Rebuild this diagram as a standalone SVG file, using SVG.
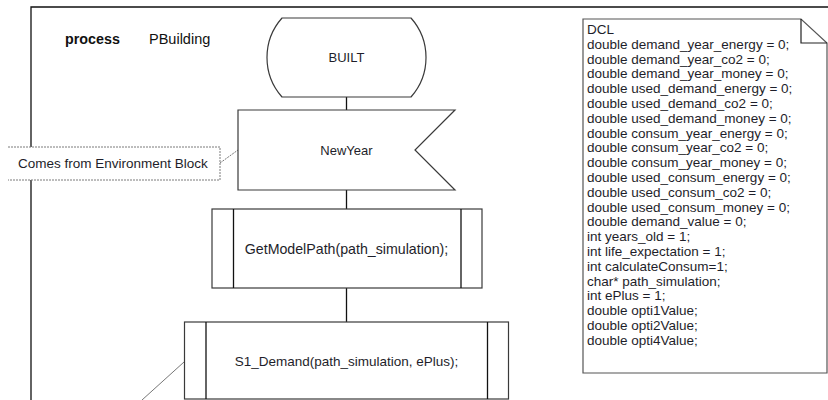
<svg xmlns="http://www.w3.org/2000/svg" width="828" height="400" viewBox="0 0 828 400">
<style>
.shape{fill:#fff;stroke:#3a3a3a;stroke-width:1.2}
.conn{stroke:#111;stroke-width:1.3;fill:none}
.note{fill:none;stroke:#7a7a7a;stroke-width:1;stroke-dasharray:2 1}
.t{font-family:"Liberation Sans",Arial,sans-serif;font-size:13px;fill:#1e1e2a}
.c{text-anchor:middle}
.dcl{font-family:"Liberation Sans",Arial,sans-serif;font-size:13.5px;fill:#1e1e2a}
</style>
<rect width="828" height="400" fill="#fff"/>
<g id="frame">
<path d="M31,400 V7 H828" fill="none" stroke="#111" stroke-width="1.3"/>
<text x="65" y="44" style="font-family:'Liberation Sans',Arial,sans-serif;font-size:14.3px;font-weight:bold;fill:#111">process</text>
<text x="149" y="44" style="font-family:'Liberation Sans',Arial,sans-serif;font-size:14.5px;fill:#111">PBuilding</text>
</g>
<g id="connectors">
<line class="conn" x1="346.5" y1="97" x2="346.5" y2="110"/>
<line class="conn" x1="346.5" y1="190" x2="346.5" y2="209"/>
<line class="conn" x1="346.5" y1="288" x2="346.5" y2="322"/>
<line x1="220" y1="163" x2="238" y2="150" stroke="#777" stroke-width="1" stroke-dasharray="2 1"/>
<line x1="184" y1="362" x2="142" y2="400" stroke="#777" stroke-width="1"/>
</g>
<g id="comment">
<rect x="8" y="147" width="212" height="33" fill="#fff"/>
<path class="note" d="M8,147 H220 V180 H8"/>
<text class="t" x="18" y="168" style="font-size:13.5px">Comes from Environment Block</text>
</g>
<g id="built">
<path class="shape" d="M282,18 H411 A59.5,59.5 0 0 1 411,97 H282 A59.5,59.5 0 0 1 282,18 Z"/>
<text class="t c" x="346.5" y="61.5">BUILT</text>
</g>
<g id="newyear">
<path class="shape" d="M238,110 H455 L415,150 L455,190 H238 Z"/>
<text class="t c" x="346.5" y="154.5">NewYear</text>
</g>
<g id="getmodelpath">
<rect class="shape" x="212" y="209" width="270" height="79"/>
<line class="conn" x1="233.5" y1="209" x2="233.5" y2="288"/>
<line class="conn" x1="461" y1="209" x2="461" y2="288"/>
<text class="t c" x="346.5" y="253.5" style="font-size:14.2px">GetModelPath(path_simulation);</text>
</g>
<g id="s1demand">
<rect class="shape" x="184.5" y="322" width="324" height="77"/>
<line class="conn" x1="206" y1="322" x2="206" y2="399"/>
<line class="conn" x1="487.5" y1="322" x2="487.5" y2="399"/>
<text class="t c" x="346.5" y="366" style="font-size:13.5px">S1_Demand(path_simulation, ePlus);</text>
</g>
<g id="dcl">
<path d="M583,19 H801 L827,43 V373 H583 Z" fill="#fff" stroke="#555" stroke-width="1.2"/>
<path d="M801,19 V43 H827" fill="none" stroke="#222" stroke-width="1.2"/>
<text class="dcl" x="587">
<tspan x="587" y="34">DCL</tspan>
<tspan x="587" y="48.8">double demand_year_energy = 0;</tspan>
<tspan x="587" y="63.6">double demand_year_co2 = 0;</tspan>
<tspan x="587" y="78.4">double demand_year_money = 0;</tspan>
<tspan x="587" y="93.2">double used_demand_energy = 0;</tspan>
<tspan x="587" y="108">double used_demand_co2 = 0;</tspan>
<tspan x="587" y="122.8">double used_demand_money = 0;</tspan>
<tspan x="587" y="137.6">double consum_year_energy = 0;</tspan>
<tspan x="587" y="152.4">double consum_year_co2 = 0;</tspan>
<tspan x="587" y="167.2">double consum_year_money = 0;</tspan>
<tspan x="587" y="182">double used_consum_energy = 0;</tspan>
<tspan x="587" y="196.8">double used_consum_co2 = 0;</tspan>
<tspan x="587" y="211.6">double used_consum_money = 0;</tspan>
<tspan x="587" y="226.4">double demand_value = 0;</tspan>
<tspan x="587" y="241.2">int years_old = 1;</tspan>
<tspan x="587" y="256">int life_expectation = 1;</tspan>
<tspan x="587" y="270.8">int calculateConsum=1;</tspan>
<tspan x="587" y="285.6">char* path_simulation;</tspan>
<tspan x="587" y="300.4">int ePlus = 1;</tspan>
<tspan x="587" y="315.2">double opti1Value;</tspan>
<tspan x="587" y="330">double opti2Value;</tspan>
<tspan x="587" y="344.8">double opti4Value;</tspan>
</text>
</g>
</svg>
